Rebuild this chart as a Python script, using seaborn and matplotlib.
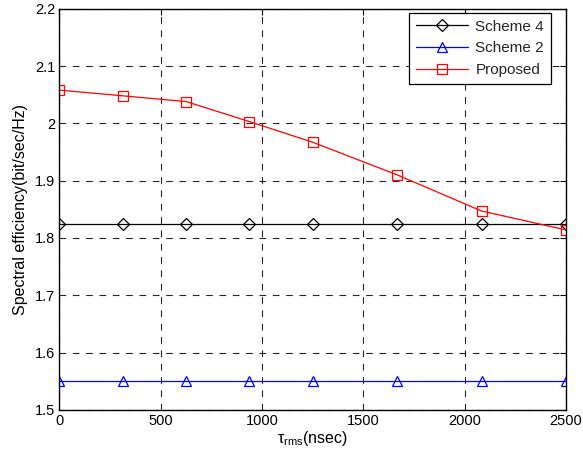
import matplotlib
matplotlib.use("Agg")
import matplotlib.pyplot as plt
import seaborn as sns
import pandas as pd

tau = [0, 312.5, 625, 937.5, 1250, 1666.7, 2083.3, 2500]
scheme4 = [1.824, 1.824, 1.824, 1.824, 1.824, 1.824, 1.824, 1.824]
scheme2 = [1.55, 1.55, 1.55, 1.55, 1.55, 1.55, 1.55, 1.55]
proposed = [2.058, 2.048, 2.038, 2.003, 1.967, 1.910, 1.847, 1.814]
series_names = ["Scheme 4", "Scheme 2", "Proposed"]
xticks = [0, 500, 1000, 1500, 2000, 2500]
yticks = [1.5, 1.6, 1.7, 1.8, 1.9, 2.0, 2.1, 2.2]

sns.set_theme(style="white")
plt.rcParams['font.family'] = ['Liberation Sans', 'DejaVu Sans']
plt.rcParams['mathtext.fontset'] = 'custom'
plt.rcParams['mathtext.rm'] = 'Liberation Sans'
plt.rcParams['mathtext.it'] = 'Liberation Sans:italic'

fig = plt.figure(figsize=(5.83, 4.59), dpi=100)
ax = fig.add_axes([0.102, 0.107, 0.869, 0.874])

styles = [("D", "black", scheme4), ("^", "blue", scheme2), ("s", "red", proposed)]
for name, (mk, col, vals) in zip(series_names, styles):
    df = pd.DataFrame({"tau": tau, "se": vals})
    sns.lineplot(data=df, x="tau", y="se", ax=ax, color=col, linewidth=0.9,
                 marker=mk, markersize=7 if mk != "D" else 6,
                 markerfacecolor="none", markeredgecolor=col, markeredgewidth=0.9,
                 label=name)

ax.set_xlim(0, 2500)
ax.set_ylim(1.5, 2.2)
ax.set_xticks(xticks)
ax.set_yticks(yticks)
ax.set_yticklabels(["1.5", "1.6", "1.7", "1.8", "1.9", "2", "2.1", "2.2"])
ax.grid(True, color="black", linestyle=(0, (6, 6)), linewidth=0.8, alpha=0.85)
ax.tick_params(direction="in", top=True, right=True, length=4, width=0.8,
               labelsize=10.5, colors="black", pad=3)
for s in ax.spines.values():
    s.set_color("black")
    s.set_linewidth(1.0)
ax.set_xlabel(r"$\mathregular{\tau_{rms}}$(nsec)", fontsize=11.5, color="black", labelpad=1)
ax.set_ylabel("Spectral efficiency(bit/sec/Hz)", fontsize=11.5, color="black", labelpad=5)
leg = ax.legend(loc="upper right", bbox_to_anchor=(0.97, 0.99), fontsize=11,
                frameon=True, fancybox=False, edgecolor="black", framealpha=1,
                borderaxespad=0.0, handlelength=3.4, labelspacing=0.5,
                borderpad=0.45, handletextpad=0.5)
leg.get_frame().set_linewidth(0.9)
fig.savefig("out.png", dpi=100, facecolor="white")
